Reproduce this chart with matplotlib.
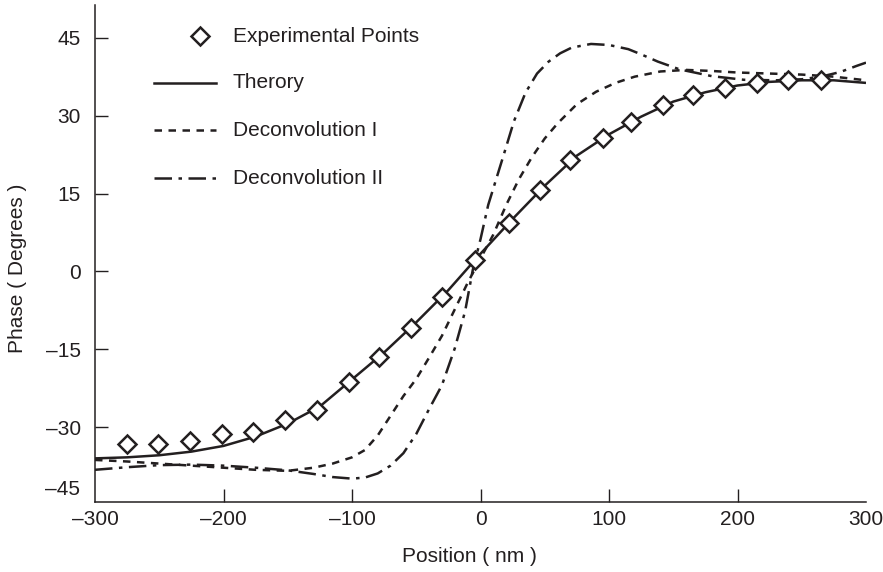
import matplotlib
matplotlib.use("Agg")
import matplotlib.pyplot as plt
from matplotlib.lines import Line2D

plt.rcParams['font.family'] = ['Liberation Sans', 'DejaVu Sans']

INK = '#231f20'

# Experimental phase measurements
exp_x = [-275, -251, -226, -201, -177, -152, -127.5, -102, -78.6, -54.2, -29.7,
         -4.4, 21.9, 46, 70, 95, 117, 142, 165, 190, 215, 239, 265]
exp_y = [-33.3, -33.3, -32.6, -31.4, -31.0, -28.7, -26.6, -21.2, -16.4, -10.8, -4.9,
         2.2, 9.3, 15.6, 21.4, 25.7, 28.7, 32.0, 33.9, 35.4, 36.3, 36.8, 36.8]

# Theoretical curve
theory_x = [-300, -275, -250, -225, -200, -175, -150, -125, -100, -75, -50, -25,
            0, 25, 50, 75, 100, 125, 150, 175, 200, 225, 250, 275, 300]
theory_y = [-36.0, -35.8, -35.4, -34.7, -33.6, -31.8, -29.3, -26.0, -20.8, -15.6, -9.8, -3.6,
            3.4, 10.1, 16.5, 22.3, 26.4, 29.8, 32.7, 34.5, 35.8, 36.5, 36.8, 36.8, 36.3]

# Deconvolution I
dec1_x = [-300, -275, -250, -225, -200, -175, -150, -130, -115, -100, -90, -80, -70,
          -60, -50, -40, -30, -20, -10, 0, 10, 20, 30, 40, 50, 60, 75, 90, 105, 120,
          140, 160, 180, 200, 225, 250, 275, 300]
dec1_y = [-36.3, -36.6, -37.0, -37.4, -37.8, -38.2, -38.4, -37.8, -37.0, -35.8, -34.4, -31.6, -27.8,
          -24.0, -20.7, -16.6, -12.4, -7.3, -2.2, 2.5, 7.1, 12.8, 17.8, 22.0, 25.6, 28.5, 32.2, 34.6, 36.3, 37.5,
          38.5, 38.8, 38.6, 38.3, 38.1, 37.9, 37.5, 36.8]

# Deconvolution II
dec2_x = [-300, -275, -250, -225, -200, -175, -150, -130, -115, -100, -90, -80, -70,
          -60, -50, -40, -30, -20, -12, -6, 0, 6, 12, 18, 26, 35, 44, 53, 62, 71, 86,
          100, 115, 125, 138, 155, 180, 205, 230, 250, 265, 280, 293, 300]
dec2_y = [-38.2, -37.7, -37.3, -37.2, -37.4, -37.8, -38.3, -39.0, -39.6, -39.9, -39.7, -38.9, -37.4,
          -35.0, -31.3, -26.5, -21.9, -14.8, -7.7, 0.3, 6.2, 12.8, 17.6, 22.4, 28.9, 34.4, 38.1, 40.4, 42.0, 43.1, 43.8,
          43.6, 42.8, 41.8, 40.4, 38.9, 37.6, 36.9, 36.8, 37.0, 37.5, 38.4, 39.6, 40.2]

x_ticks = [-300, -200, -100, 0, 100, 200, 300]
x_labels = ['\u2013300', '\u2013200', '\u2013100', '0', '100', '200', '300']
y_ticks = [-30, -15, 0, 15, 30, 45]
y_labels = ['\u201330', '\u201315', '0', '15', '30', '45']

W, H = 883, 572
fig = plt.figure(figsize=(W / 100, H / 100), dpi=100)
ax = fig.add_axes([95 / W, (H - 502) / H, (866 - 95) / W, (502 - 5) / H])

lw = 1.8
dash_style = (0, (3.0, 2.6))
dashdot_style = (0, (7.0, 2.6, 1.4, 2.6))

ax.plot(theory_x, theory_y, color=INK, lw=lw, solid_capstyle='butt', zorder=2)
ax.plot(dec1_x, dec1_y, color=INK, lw=lw, linestyle=dash_style, zorder=2)
ax.plot(dec2_x, dec2_y, color=INK, lw=lw, linestyle=dashdot_style, zorder=2)
ax.plot(exp_x, exp_y, linestyle='none', marker='D', markersize=9.5,
        markerfacecolor='white', markeredgecolor=INK, markeredgewidth=1.8, zorder=3)

ax.set_xlim(-300, 300)
ax.set_ylim(-44.4, 51.3)

for side in ('top', 'right'):
    ax.spines[side].set_visible(False)
for side in ('left', 'bottom'):
    ax.spines[side].set_color(INK)
    ax.spines[side].set_linewidth(1.1)

ax.set_xticks(x_ticks, x_labels)
ax.set_yticks(y_ticks, y_labels)
ax.tick_params(direction='in', length=9.5, width=1.0, color=INK,
               labelsize=15, labelcolor=INK)
ax.tick_params(axis='x', pad=6)
ax.tick_params(axis='y', pad=10)
xt = ax.xaxis.get_major_ticks()
xt[0].tick1line.set_visible(False)
xt[-1].tick1line.set_visible(False)

# bottom y label sits just above the x axis
ax.text(-0.0195, -41.9, '\u201345', transform=ax.get_yaxis_transform(),
        ha='right', va='center', fontsize=15, color=INK)

ax.set_xlabel('Position ( nm )', fontsize=15, color=INK, va='center')
ax.set_ylabel('Phase ( Degrees )', fontsize=15, color=INK)
ax.xaxis.set_label_coords((469 - 95) / (866 - 95), -(557 - 502) / (502 - 5))
ax.yaxis.set_label_coords(-(95 - 27) / (866 - 95), 0.47)

# legend drawn in figure pixel coordinates
def fx(px):
    return px / W

def fy(py):
    return (H - py) / H

rows = [36, 82.7, 130, 178.3]
names = ['Experimental Points', 'Therory', 'Deconvolution I', 'Deconvolution II']
fig.add_artist(Line2D([fx(200)], [fy(rows[0])], marker='D', markersize=9.5,
                      markerfacecolor='white', markeredgecolor=INK,
                      markeredgewidth=1.8, linestyle='none'))
fig.add_artist(Line2D([fx(154), fx(216)], [fy(rows[1])] * 2, color=INK, lw=lw))
fig.add_artist(Line2D([fx(154), fx(216)], [fy(rows[2])] * 2, color=INK, lw=lw,
                      linestyle=dash_style))
fig.add_artist(Line2D([fx(154), fx(216)], [fy(rows[3])] * 2, color=INK, lw=lw,
                      linestyle=dashdot_style))
for r, name in zip(rows, names):
    fig.text(fx(232.7), fy(r), name, ha='left', va='center', fontsize=15, color=INK)

fig.savefig('out.png', dpi=100)
